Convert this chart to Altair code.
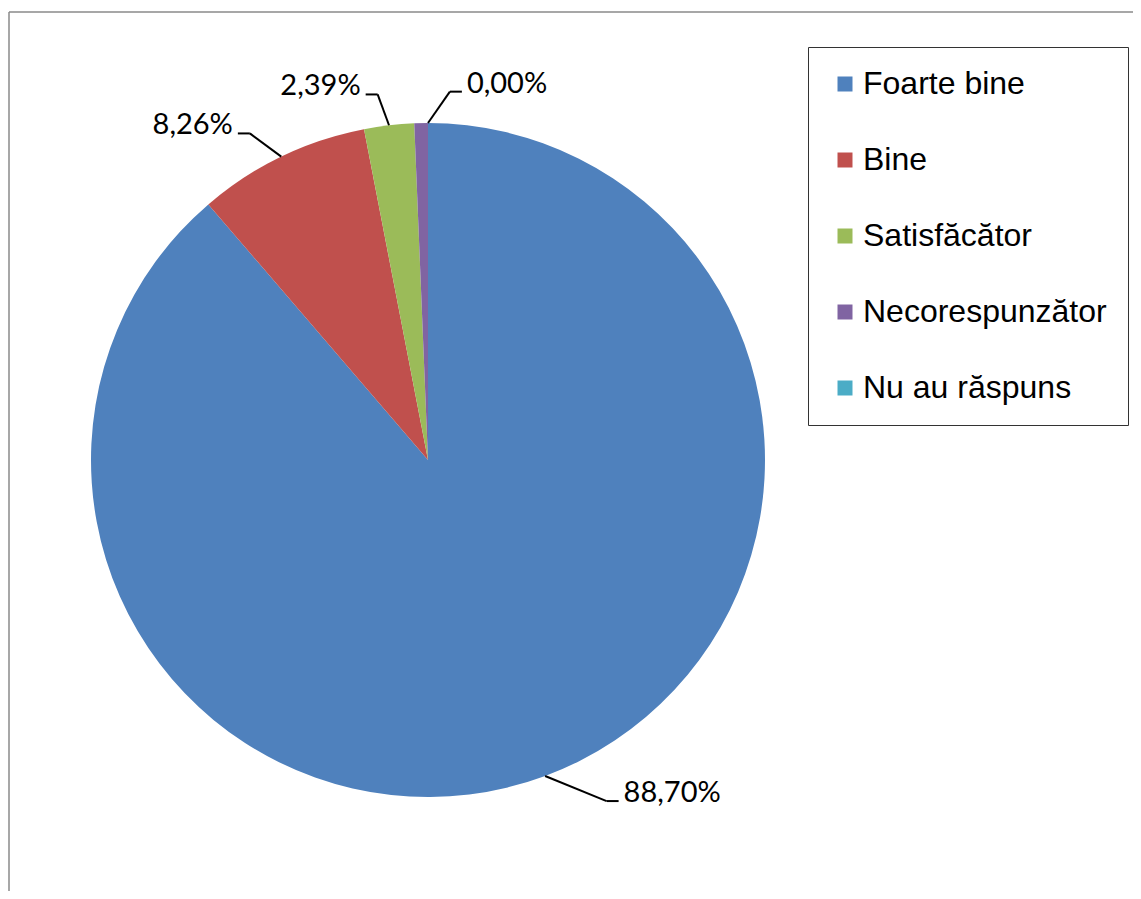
import altair as alt
import pandas as pd

# ---- data ----
categories = ["Foarte bine", "Bine", "Satisfăcător", "Necorespunzător", "Nu au răspuns"]
percentages = [88.70, 8.26, 2.39, 0.65, 0.00]
show_label = [True, True, True, False, True]
colors = ["#4F81BD", "#C0504D", "#9BBB59", "#8064A2", "#4BACC6"]

# ---- layout (pixels, relative to the chart origin) ----
W, H = 1125, 883
CX, CY, R = 420, 452, 337          # pie centre and radius
label_shift_deg = [-7.3, -2.8, -1.2, 0.0, 3.4]   # Excel "best fit" nudges
elbow_r = [385, 372, 369, 369, 369]              # radius where leader lines bend
TICK = 12                          # horizontal part of the leader line
GAP = 5                            # gap between leader and text

labels = [f"{v:.2f}%".replace(".", ",") for v in percentages]

df = pd.DataFrame({
    "category": categories,
    "value": percentages,
    "label": labels,
    "show": show_label,
    "order": list(range(len(categories))),
    "shift": label_shift_deg,
    "er": elbow_r,
})

base = alt.Chart(df)

pie = base.mark_arc(outerRadius=R, stroke=None).encode(
    theta=alt.Theta("value:Q", stack=True),
    color=alt.Color(
        "category:N",
        sort=categories,
        scale=alt.Scale(domain=categories, range=colors),
        legend=alt.Legend(
            orient="none", legendX=800, legendY=39, title=None,
            strokeColor="#333333", fillColor="white", padding=21,
            symbolType="square", symbolSize=225, symbolStrokeWidth=0,
            labelFont="Liberation Sans", labelFontSize=32, labelColor="black",
            labelLimit=500, labelOffset=2, rowPadding=44,
        ),
    ),
    order=alt.Order("order:Q"),
    x=alt.value(CX),
    y=alt.value(CY),
)

lab = (
    base.transform_joinaggregate(total="sum(value)")
    .transform_window(cum="sum(value)", sort=[alt.SortField("order")], frame=[None, 0])
    .transform_calculate(
        mid="2*PI*(datum.cum - datum.value/2)/datum.total",
        ang="datum.mid + datum.shift*PI/180",
        x0=f"{CX} + {R}*sin(datum.mid)",
        y0=f"{CY} - {R}*cos(datum.mid)",
        x1=f"{CX} + datum.er*sin(datum.ang)",
        y1=f"{CY} - datum.er*cos(datum.ang)",
        side="sin(datum.ang) >= 0 ? 1 : -1",
        x2=f"datum.x1 + datum.side*{TICK}",
        tx=f"datum.x2 + datum.side*{GAP}",
        ty="datum.y1 + 1",
    )
    .transform_filter("datum.show")
)

leader1 = lab.mark_rule(color="black", strokeWidth=2).encode(
    x=alt.X("x0:Q", scale=None), y=alt.Y("y0:Q", scale=None),
    x2="x1:Q", y2="y1:Q",
)
leader2 = lab.mark_rule(color="black", strokeWidth=2).encode(
    x=alt.X("x1:Q", scale=None), y=alt.Y("y1:Q", scale=None),
    x2="x2:Q", y2="y1:Q",
)
text_right = lab.transform_filter("datum.side > 0").mark_text(
    align="left", baseline="alphabetic", font="Lato", fontSize=29, color="black"
).encode(x=alt.X("tx:Q", scale=None), y=alt.Y("ty:Q", scale=None), text="label:N")
text_left = lab.transform_filter("datum.side < 0").mark_text(
    align="right", baseline="alphabetic", font="Lato", fontSize=29, color="black"
).encode(x=alt.X("tx:Q", scale=None), y=alt.Y("ty:Q", scale=None), text="label:N")

frame_df = pd.DataFrame({"a": [0]})
frame_top = alt.Chart(frame_df).mark_rule(color="#8a8a8a", strokeWidth=1.5).encode(
    x=alt.value(1), x2=alt.value(W), y=alt.value(4)
)
frame_left = alt.Chart(frame_df).mark_rule(color="#8a8a8a", strokeWidth=1.5).encode(
    x=alt.value(1), y=alt.value(4), y2=alt.value(H)
)

chart = (
    alt.layer(frame_top, frame_left, pie, leader1, leader2, text_right, text_left)
    .properties(width=W, height=H, padding=0, autosize=alt.AutoSizeParams(type="none"))
    .configure_view(stroke=None)
    .resolve_scale(x="independent", y="independent")
)

chart.save("out.html", embed_options={"renderer": "svg", "actions": False})
